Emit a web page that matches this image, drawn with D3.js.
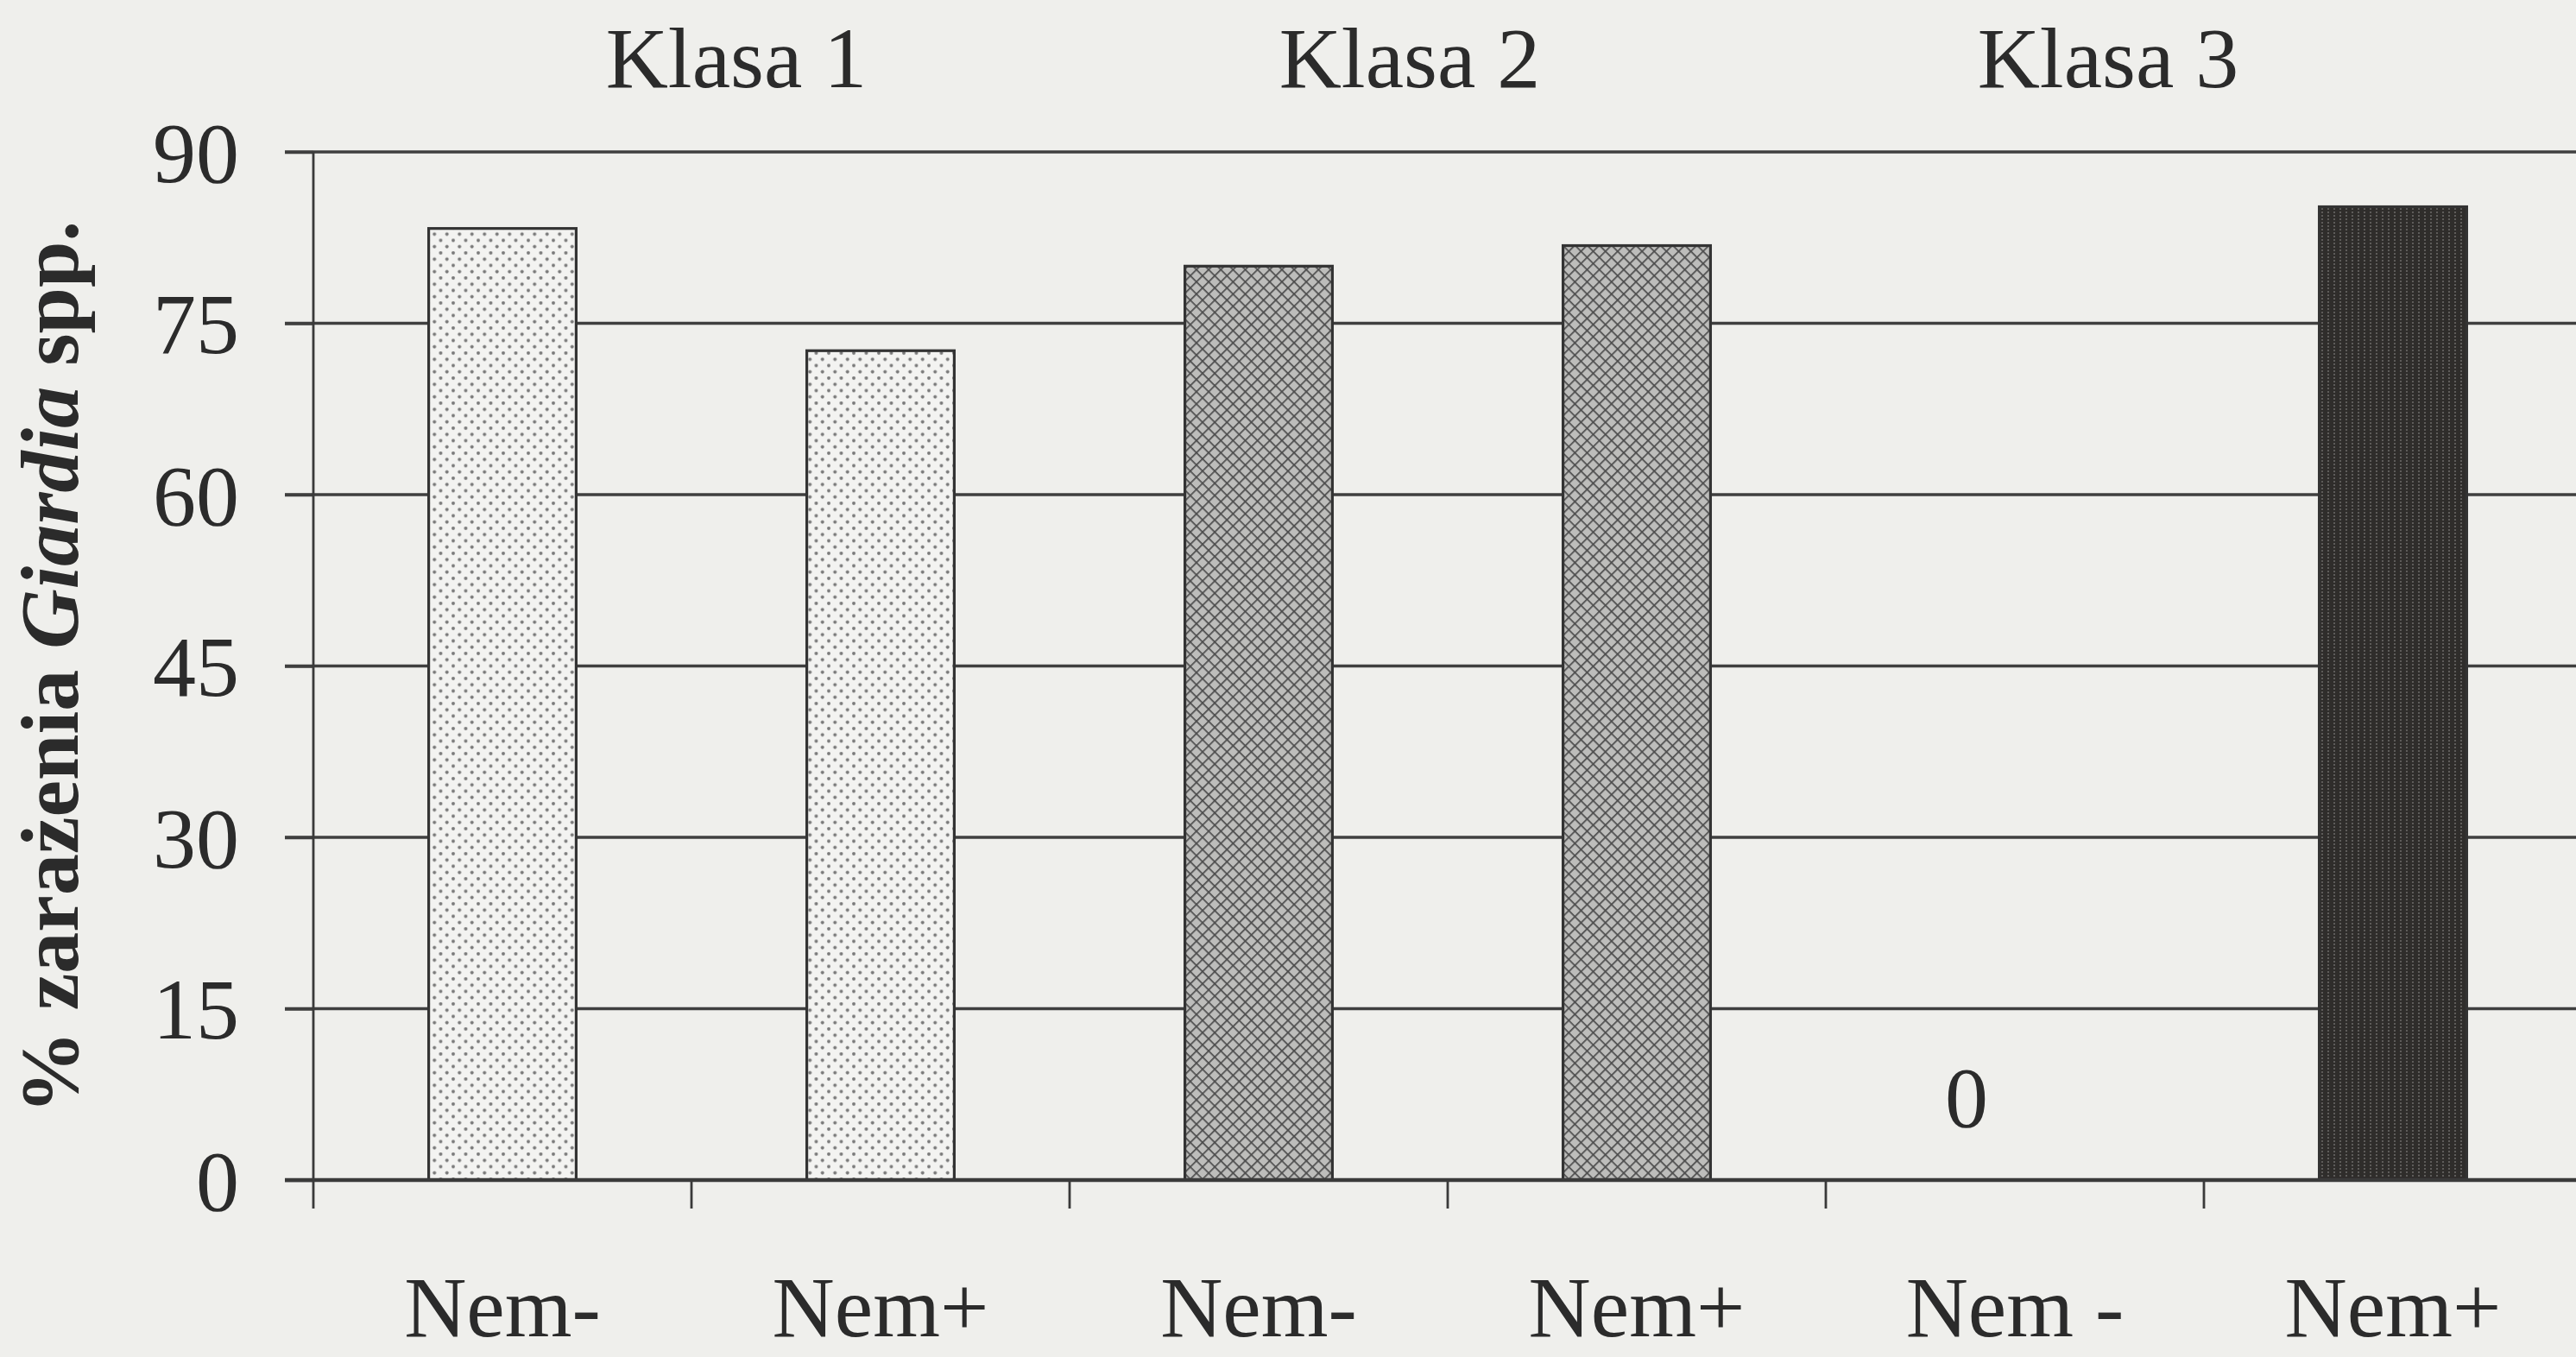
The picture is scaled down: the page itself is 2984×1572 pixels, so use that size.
<!DOCTYPE html>
<html>
<head>
<meta charset="utf-8">
<script src="https://cdnjs.cloudflare.com/ajax/libs/d3/7.8.5/d3.min.js"></script>
<style>
  body { margin: 0; background: #efefec; }
  svg { display: block; }
  text { font-family: "Liberation Serif", "Times New Roman", serif; fill: #2b2b2b; }
</style>
</head>
<body>
<div id="chart"></div>
<script>
// data
var categories = ["Nem-", "Nem+", "Nem-", "Nem+", "Nem -", "Nem+"];
var klasa = [1, 1, 2, 2, 3, 3];
var values = [83.3, 72.6, 80.0, 81.8, 0, 85.2];
var groupLabels = ["Klasa 1", "Klasa 2", "Klasa 3"];
var yTicks = [0, 15, 30, 45, 60, 75, 90];

var w = 2984;
var h = 1572;
var plotLeft = 363, plotRight = 2991, plotTop = 176, plotBottom = 1367;

var svg = d3.select("#chart")
    .append("svg")
    .attr("width", w)
    .attr("height", h);

svg.append("rect")
    .attr("width", w)
    .attr("height", h)
    .attr("fill", "#efefec");

// fill patterns
var defs = svg.append("defs");

var dots = defs.append("pattern")
    .attr("id", "dots")
    .attr("patternUnits", "userSpaceOnUse")
    .attr("width", 14.5)
    .attr("height", 14.5);
dots.append("rect").attr("width", 14.5).attr("height", 14.5).attr("fill", "#f3f3f1");
dots.append("circle").attr("cx", 3).attr("cy", 3).attr("r", 2).attr("fill", "#7a7a7a");
dots.append("circle").attr("cx", 10.25).attr("cy", 10.25).attr("r", 2).attr("fill", "#7a7a7a");

var hatch = defs.append("pattern")
    .attr("id", "hatch")
    .attr("patternUnits", "userSpaceOnUse")
    .attr("width", 10)
    .attr("height", 10)
    .attr("patternTransform", "rotate(45)");
hatch.append("rect").attr("width", 10).attr("height", 10).attr("fill", "#bdbdbb");
hatch.append("line").attr("x1", 0).attr("y1", 0).attr("x2", 0).attr("y2", 10)
    .attr("stroke", "#4c4c4c").attr("stroke-width", 3.4);
hatch.append("line").attr("x1", 0).attr("y1", 0).attr("x2", 10).attr("y2", 0)
    .attr("stroke", "#4c4c4c").attr("stroke-width", 3.4);

var dark = defs.append("pattern")
    .attr("id", "dark")
    .attr("patternUnits", "userSpaceOnUse")
    .attr("width", 7)
    .attr("height", 4);
dark.append("rect").attr("width", 7).attr("height", 4).attr("fill", "#2f2d2b");
dark.append("circle").attr("cx", 2).attr("cy", 2).attr("r", 1).attr("fill", "#6e6c6a");

var fills = {1: "url(#dots)", 2: "url(#hatch)", 3: "url(#dark)"};

// scales
var idx = d3.range(categories.length);
var x = d3.scaleBand()
    .domain(idx)
    .range([plotLeft, plotRight])
    .paddingInner(0.61)
    .paddingOuter(0.305);
var step = x.step();

var y = d3.scaleLinear()
    .domain([0, 90])
    .range([plotBottom, plotTop]);

// gridlines
svg.selectAll("line.grid")
    .data(yTicks.filter(function (d) { return d > 0; }))
    .enter()
    .append("line")
    .attr("class", "grid")
    .attr("x1", plotLeft - 33)
    .attr("x2", w)
    .attr("y1", function (d) { return y(d); })
    .attr("y2", function (d) { return y(d); })
    .attr("stroke", "#3f3f3f")
    .attr("stroke-width", 3.5);

// y axis
var yAxis = svg.append("g")
    .attr("transform", "translate(" + plotLeft + ",0)")
    .call(d3.axisLeft(y).tickValues(yTicks).tickSize(33).tickPadding(53));
yAxis.select(".domain").remove();
yAxis.selectAll(".tick line").attr("stroke", "#3f3f3f").attr("stroke-width", 3.5);
yAxis.selectAll(".tick text")
    .attr("font-size", "100px")
    .attr("font-family", "Liberation Serif, Times New Roman, serif")
    .attr("fill", "#2b2b2b")
    .attr("dy", "0.34em");

svg.append("line")
    .attr("x1", plotLeft).attr("x2", plotLeft)
    .attr("y1", y(90)).attr("y2", y(0) + 33)
    .attr("stroke", "#3a3a3a")
    .attr("stroke-width", 2.8);

// bars
svg.selectAll("rect.bar")
    .data(idx)
    .enter()
    .append("rect")
    .attr("class", "bar")
    .attr("x", function (i) { return x(i); })
    .attr("width", x.bandwidth())
    .attr("y", function (i) { return y(values[i]); })
    .attr("height", function (i) { return y(0) - y(values[i]); })
    .attr("fill", function (i) { return fills[klasa[i]]; })
    .attr("stroke", function (i) { return values[i] > 0 ? "#333" : "none"; })
    .attr("stroke-width", 3.2);

// label for the empty bar
svg.selectAll("text.zero")
    .data(idx.filter(function (i) { return values[i] === 0; }))
    .enter()
    .append("text")
    .attr("class", "zero")
    .attr("x", function (i) { return x(i) + x.bandwidth() / 2 - 56; })
    .attr("y", function (i) { return y(values[i]) - 62; })
    .attr("text-anchor", "middle")
    .attr("font-size", "100px")
    .text(function (i) { return values[i]; });

// x axis
svg.append("line")
    .attr("x1", plotLeft - 33).attr("x2", w)
    .attr("y1", y(0)).attr("y2", y(0))
    .attr("stroke", "#3a3a3a")
    .attr("stroke-width", 4.5);

svg.selectAll("line.xtick")
    .data(idx.slice(1))
    .enter()
    .append("line")
    .attr("class", "xtick")
    .attr("x1", function (i) { return x(i) - step * 0.305; })
    .attr("x2", function (i) { return x(i) - step * 0.305; })
    .attr("y1", y(0))
    .attr("y2", y(0) + 33)
    .attr("stroke", "#3a3a3a")
    .attr("stroke-width", 2.8);

svg.selectAll("text.cat")
    .data(idx)
    .enter()
    .append("text")
    .attr("class", "cat")
    .attr("x", function (i) { return x(i) + x.bandwidth() / 2; })
    .attr("y", 1548)
    .attr("text-anchor", "middle")
    .attr("font-size", "100px")
    .text(function (i) { return categories[i]; });

// group labels above the plot
var groupNudge = [52, -44, -111];
svg.selectAll("text.group")
    .data(groupLabels)
    .enter()
    .append("text")
    .attr("class", "group")
    .attr("x", function (d, g) { return x(g * 2 + 1) - step * 0.305 + groupNudge[g]; })
    .attr("y", 101)
    .attr("text-anchor", "middle")
    .attr("font-size", "100px")
    .text(function (d) { return d; });

// y axis title
var title = svg.append("text")
    .attr("transform", "translate(90," + 773 + ") rotate(-90)")
    .attr("text-anchor", "middle")
    .attr("font-size", "96px")
    .attr("font-weight", "bold");
title.append("tspan").text("% zarażenia ");
title.append("tspan").attr("font-style", "italic").text("Giardia");
title.append("tspan").text(" spp.");
</script>
</body>
</html>
